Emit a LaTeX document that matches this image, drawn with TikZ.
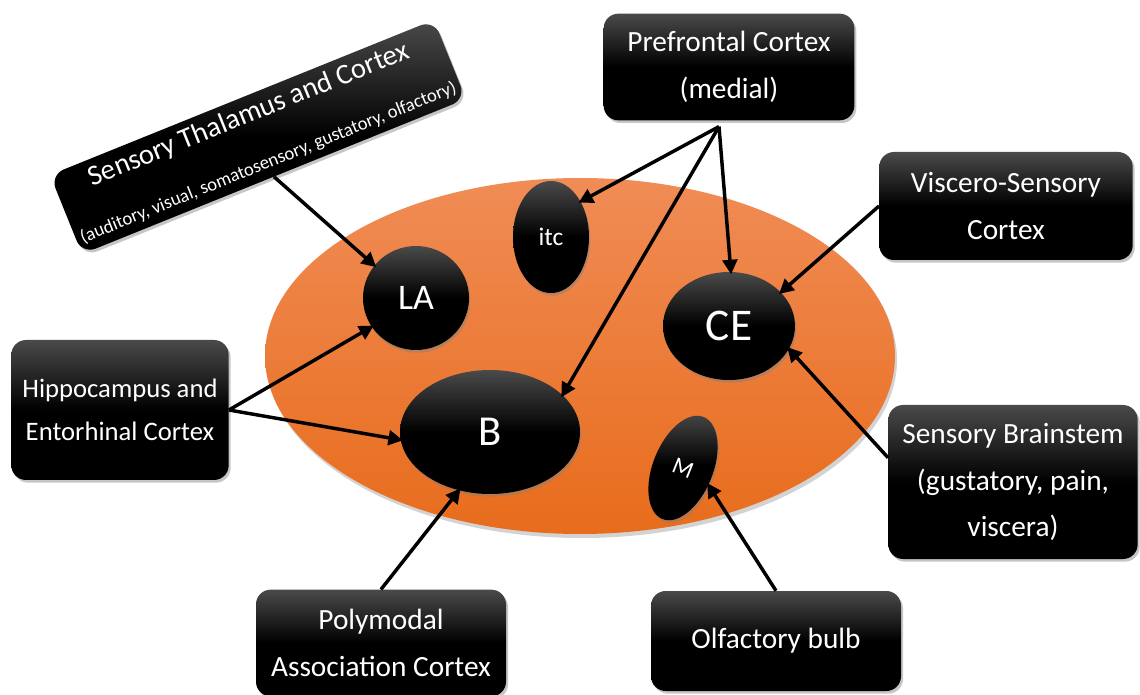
\documentclass[tikz,border=0pt]{standalone}
\usepackage{fontspec}
\setmainfont{Carlito}
\usetikzlibrary{arrows.meta,shadows,calc,shapes.geometric}
\definecolor{orangetop}{RGB}{240,140,86}
\definecolor{orangebot}{RGB}{232,108,28}
\definecolor{boxtop}{RGB}{74,74,74}
\begin{document}
\begin{tikzpicture}[x=0.75pt,y=-0.75pt,
  box/.style={rectangle, rounded corners=11pt, top color=boxtop, bottom color=black, middle color=black,
    text=white, font=\fontsize{22}{35}\selectfont, align=center, inner sep=0pt,
    drop shadow={opacity=0.45, shadow xshift=1.5pt, shadow yshift=-2pt}},
  blob/.style={ellipse, inner sep=0pt, top color=boxtop, bottom color=black, middle color=black, text=white,
    drop shadow={opacity=0.45, shadow xshift=1pt, shadow yshift=-2pt}},
  arr/.style={line width=2.6pt, -{Triangle[length=11pt,width=11pt]}, shorten >=-2pt}
]
\useasboundingbox (0,0) rectangle (1140,695);
\clip (0,0) rectangle (1140,695);

% amygdala body
\node[ellipse, inner sep=0pt, minimum width=472.5pt, minimum height=267pt,
  top color=orangetop, bottom color=orangebot,
  drop shadow={opacity=0.35, shadow xshift=1.5pt, shadow yshift=-3pt}] (amy) at (580,356) {};

% nuclei
\node[blob, minimum width=79.5pt, minimum height=78pt, font=\fontsize{27}{30}\selectfont] (LA) at (416,298) {LA};
\node[blob, minimum width=57pt, minimum height=84pt, font=\fontsize{19}{22}\selectfont] (itc) at (551,237) {itc};
\node[blob, minimum width=99pt, minimum height=81pt, font=\fontsize{34}{36}\selectfont] (CE) at (729,326) {CE};
\node[blob, minimum width=135pt, minimum height=93pt, font=\fontsize{32}{36}\selectfont] (B) at (490,432) {B};
\node[blob, rotate=-22, minimum width=45pt, minimum height=82.5pt, font=\fontsize{18}{20}\selectfont] (M) at (683,468) {M};

% boxes
\node[box, minimum width=188pt, minimum height=80pt] (pfc) at (729,67) {Prefrontal Cortex\\(medial)};
\node[box, minimum width=190pt, minimum height=81pt] (visc) at (1006,206) {Viscero-Sensory\\Cortex};
\node[box, minimum width=187pt, minimum height=115.5pt] (bs) at (1013,482) {Sensory Brainstem\\(gustatory, pain,\\viscera)};
\node[box, minimum width=187.5pt, minimum height=75pt] (olf) at (776,641) {Olfactory bulb};
\node[box, minimum width=187.5pt, minimum height=80pt] (poly) at (381,643) {Polymodal\\Association Cortex};
\node[box, minimum width=163pt, minimum height=105pt, font=\fontsize{20}{32}\selectfont] (hip) at (120,410) {Hippocampus and\\Entorhinal Cortex};
\node[box, rotate=22, minimum width=310.5pt, minimum height=64pt] (thal) at (258,137)
  {{\fontsize{21.5}{24}\selectfont Sensory Thalamus and Cortex}\\[2pt]{\fontsize{14}{16}\selectfont (auditory, visual, somatosensory, gustatory, olfactory)}};

% connectors
\coordinate (pf) at ($(pfc.south)+(-10,6)$);
\draw[arr] (thal.south) -- (LA.142);
\draw[arr] (hip.east) -- (LA.213);
\draw[arr] (hip.east) -- (B.185);
\draw[arr] (pf) -- (itc.50);
\draw[arr] (pf) -- (B.27);
\draw[arr] (pf) -- (CE.88);
\draw[arr] (visc.west) -- (CE.33);
\draw[arr] (bs.169) -- (CE.-21);
\draw[arr] (poly.north) -- (B.242);
\draw[arr] (olf.north) -- (M.-12);
\end{tikzpicture}
\end{document}
